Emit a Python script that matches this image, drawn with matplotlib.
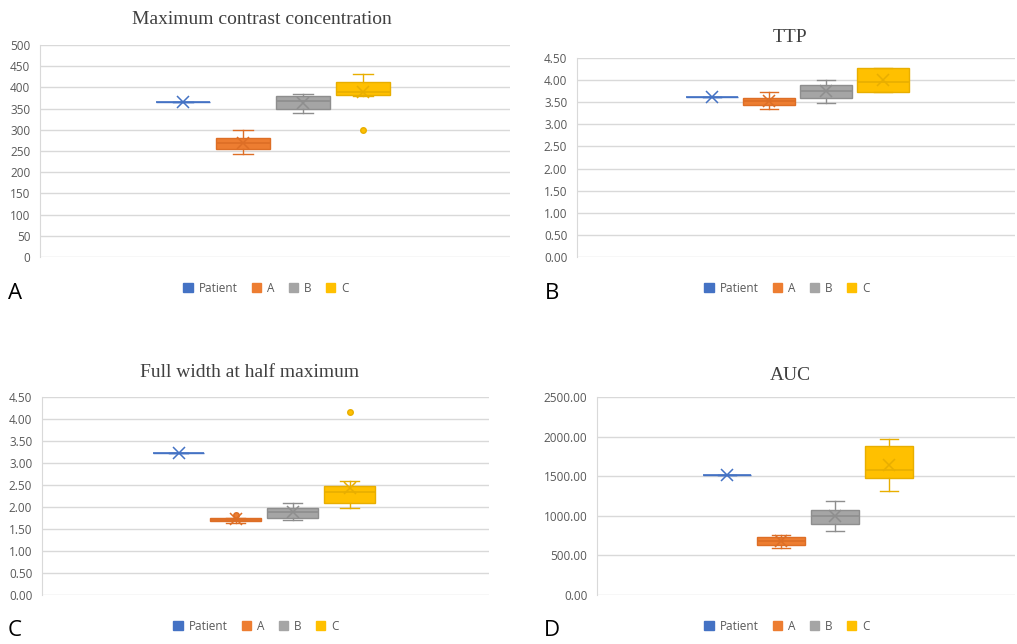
import matplotlib
matplotlib.use("Agg")
import matplotlib.pyplot as plt
from matplotlib.patches import Patch
from matplotlib.ticker import MultipleLocator, FormatStrFormatter

series = ["Patient", "A", "B", "C"]
fill_colors = ["#4472C4", "#ED7D31", "#A5A5A5", "#FFC000"]
edge_colors = ["#4472C4", "#DD6E26", "#8E8E8E", "#E8AE00"]

titles = ["Maximum contrast concentration", "TTP", "Full width at half maximum", "AUC"]
letters = ["A", "B", "C", "D"]

# Panel A: Maximum contrast concentration
mcc_q1 = [365, 255, 349, 383]
mcc_med = [365, 268, 367, 390]
mcc_q3 = [365, 280, 379, 413]
mcc_lo = [365, 244, 340, 380]
mcc_hi = [365, 299, 385, 432]
mcc_mean = [365, 269, 364, 390]
mcc_fliers = [[], [], [], [300]]

# Panel B: TTP
ttp_q1 = [3.61, 3.44, 3.60, 3.74]
ttp_med = [3.61, 3.52, 3.75, 3.95]
ttp_q3 = [3.61, 3.60, 3.88, 4.27]
ttp_lo = [3.61, 3.34, 3.49, 3.74]
ttp_hi = [3.61, 3.74, 4.01, 4.27]
ttp_mean = [3.61, 3.53, 3.75, 4.00]
ttp_fliers = [[], [], [], []]

# Panel C: Full width at half maximum
fw_q1 = [3.23, 1.68, 1.76, 2.09]
fw_med = [3.23, 1.71, 1.88, 2.34]
fw_q3 = [3.23, 1.74, 1.98, 2.47]
fw_lo = [3.23, 1.63, 1.70, 1.98]
fw_hi = [3.23, 1.74, 2.10, 2.59]
fw_mean = [3.23, 1.72, 1.88, 2.44]
fw_fliers = [[], [1.82], [], [4.15]]

# Panel D: AUC
auc_q1 = [1521, 632, 891, 1483]
auc_med = [1521, 681, 1000, 1576]
auc_q3 = [1521, 727, 1076, 1878]
auc_lo = [1521, 592, 811, 1319]
auc_hi = [1521, 756, 1189, 1971]
auc_mean = [1521, 681, 996, 1647]
auc_fliers = [[], [], [], []]

panels = [
    (mcc_q1, mcc_med, mcc_q3, mcc_lo, mcc_hi, mcc_mean, mcc_fliers, 500, 50, "%d"),
    (ttp_q1, ttp_med, ttp_q3, ttp_lo, ttp_hi, ttp_mean, ttp_fliers, 4.5, 0.5, "%.2f"),
    (fw_q1, fw_med, fw_q3, fw_lo, fw_hi, fw_mean, fw_fliers, 4.5, 0.5, "%.2f"),
    (auc_q1, auc_med, auc_q3, auc_lo, auc_hi, auc_mean, auc_fliers, 2500, 500, "%.2f"),
]

W, H = 1017, 644
fig = plt.figure(figsize=(W / 100, H / 100), dpi=100)

# layout in pixels: left, right, top, bottom, spacing, group-centre
layout = [
    (40, 510, 45, 257, 60, 273),
    (577, 1015, 58, 257, 57, 797.5),
    (42, 489, 397, 595, 57, 264),
    (597, 1015, 397, 595, 54, 808),
]
title_pos = [(262, 20), (790, 37), (250, 373), (790, 375)]
legend_pos = [(266, 288), (787, 288), (256, 626), (787, 626)]
letter_pos = [(15, 293), (552, 293), (15, 630), (552, 630)]

tick_color = "#595959"
grid_color = "#D9D9D9"
tick_font = ["Open Sans", "DejaVu Sans"]

positions = [1, 2, 3, 4]

for i, (q1, med, q3, lo, hi, mean, fliers, ymax, ystep, fmt) in enumerate(panels):
    l, r, t, b, s, gc = layout[i]
    ax = fig.add_axes([l / W, 1 - b / H, (r - l) / W, (b - t) / H])
    stats = []
    for k in range(4):
        stats.append(dict(med=med[k], q1=q1[k], q3=q3[k], whislo=lo[k],
                          whishi=hi[k], mean=mean[k], fliers=fliers[k], label=series[k]))
    for k in range(4):
        ax.bxp([stats[k]], positions=[positions[k]], widths=0.9, capwidths=0.32,
               patch_artist=True, showmeans=True, showfliers=True,
               boxprops=dict(facecolor=fill_colors[k], edgecolor=edge_colors[k], linewidth=1.0),
               medianprops=dict(color=edge_colors[k], linewidth=1.2),
               whiskerprops=dict(color=edge_colors[k], linewidth=1.0),
               capprops=dict(color=edge_colors[k], linewidth=1.0),
               meanprops=dict(marker="x", markeredgecolor=edge_colors[k],
                              markerfacecolor="none", markersize=8, markeredgewidth=1.1),
               flierprops=dict(marker="o", markerfacecolor=fill_colors[k],
                               markeredgecolor=edge_colors[k], markersize=4),
               zorder=3)
    xlo = 2.5 - (gc - l) / s
    ax.set_xlim(xlo, xlo + (r - l) / s)
    ax.set_ylim(0, ymax)
    ax.yaxis.set_major_locator(MultipleLocator(ystep))
    ax.yaxis.set_major_formatter(FormatStrFormatter(fmt))
    ax.set_xticks([])
    ax.grid(axis="y", color=grid_color, linewidth=1.0, zorder=0)
    ax.set_axisbelow(True)
    for sp in ["top", "right", "bottom"]:
        ax.spines[sp].set_visible(False)
    ax.spines["left"].set_color(grid_color)
    ax.tick_params(axis="y", length=0, pad=7, labelcolor=tick_color, labelsize=8.5)
    for lab in ax.get_yticklabels():
        lab.set_fontfamily(tick_font)

    tx, ty = title_pos[i]
    fig.text(tx / W, 1 - ty / H, titles[i], ha="center", va="center",
             fontsize=14, color="#404040", family=["Liberation Serif", "DejaVu Serif"])

    handles = [Patch(facecolor=fill_colors[k], edgecolor=fill_colors[k], label=series[k])
               for k in range(4)]
    lx, ly = legend_pos[i]
    fig.legend(handles=handles, loc="center", bbox_to_anchor=(lx / W, 1 - ly / H),
               ncol=4, frameon=False, handlelength=0.8, handleheight=0.8,
               handletextpad=0.5, columnspacing=1.2,
               prop=dict(family=tick_font, size=8.5), labelcolor=tick_color)

    px, py = letter_pos[i]
    fig.text(px / W, 1 - py / H, letters[i], ha="center", va="center",
             fontsize=16, color="#000000", family=tick_font)

fig.savefig("out.png", dpi=100, facecolor="white")
